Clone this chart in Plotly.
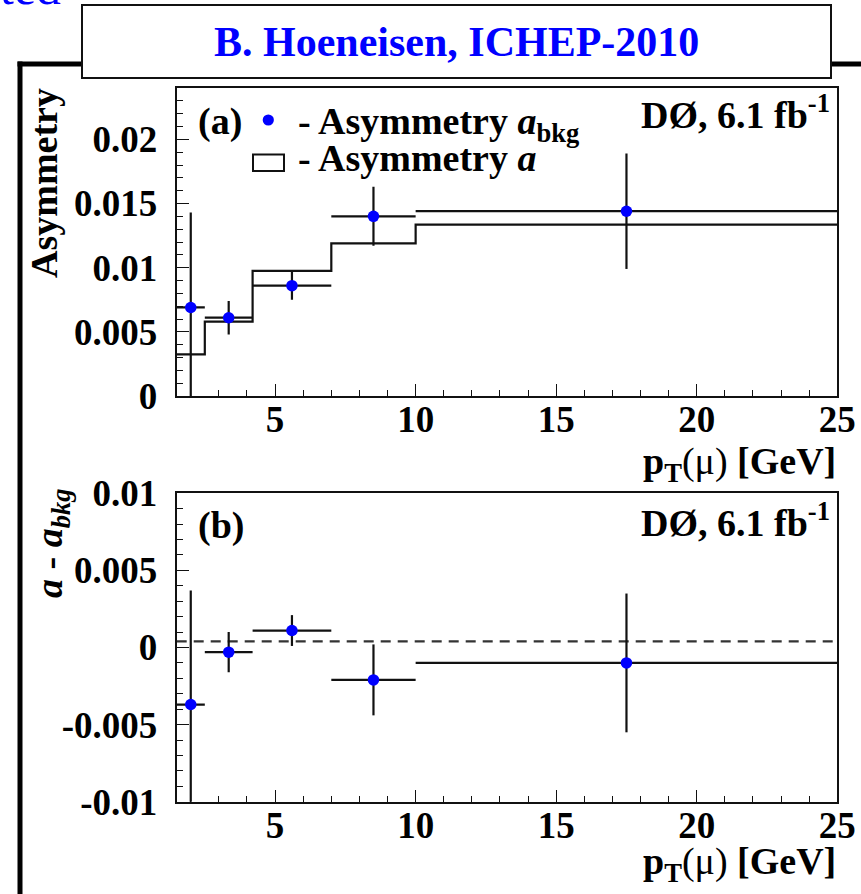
import plotly.graph_objects as go

# pT(mu) binning [GeV]
pt_edges = [1.5, 2.5, 4.2, 7.0, 10.0, 25.0]

# (a) background asymmetry a_bkg (points) and asymmetry a (histogram)
a_bkg = [0.0069, 0.0061, 0.0086, 0.0140, 0.0144]
a_bkg_err = [0.0074, 0.0013, 0.0011, 0.0023, 0.0045]
a_hist = [0.00325, 0.0058, 0.00975, 0.0119, 0.01335]

# (b) difference a - a_bkg and its mean
diff = [-0.0037, -0.0003, 0.0011, -0.0021, -0.0010]
diff_err = [0.0074, 0.0013, 0.0010, 0.0023, 0.0045]
diff_mean = 0.0004

x_ticks = [5, 10, 15, 20, 25]
x_ticktext = ["5", "10", "15", "20", "25"]
ya_ticks = [0, 0.005, 0.01, 0.015, 0.02]
ya_ticktext = ["0", "0.005", "0.01", "0.015", "0.02"]
yb_ticks = [-0.01, -0.005, 0, 0.005, 0.01]
yb_ticktext = ["-0.01", "-0.005", "0", "0.005", "0.01"]

W, H = 861, 894
SERIF = "Liberation Serif, Times New Roman, serif"
BLUE = "#0000ff"


def px(x):
    return x / W


def py(y):
    return 1 - y / H


centers = [(lo + hi) / 2 for lo, hi in zip(pt_edges[:-1], pt_edges[1:])]
half_w = [(hi - lo) / 2 for lo, hi in zip(pt_edges[:-1], pt_edges[1:])]

fig = go.Figure()

# histogram of a
fig.add_trace(go.Scatter(
    x=pt_edges, y=a_hist + [a_hist[-1]], mode="lines", line_shape="hv",
    line=dict(color="#111", width=2.2), xaxis="x", yaxis="y", showlegend=False,
    hoverinfo="skip"))

# a_bkg points
fig.add_trace(go.Scatter(
    x=centers, y=a_bkg, mode="markers",
    marker=dict(color=BLUE, size=11.5),
    error_x=dict(type="data", array=half_w, color="#111", thickness=2.2, width=0),
    error_y=dict(type="data", array=a_bkg_err, color="#111", thickness=2.2, width=0),
    xaxis="x", yaxis="y", showlegend=False))

# mean of the difference
fig.add_trace(go.Scatter(
    x=[pt_edges[0], pt_edges[-1]], y=[diff_mean, diff_mean], mode="lines",
    line=dict(color="#333", width=2.4, dash="10px,7px"),
    xaxis="x2", yaxis="y2", showlegend=False, hoverinfo="skip"))

# a - a_bkg points
fig.add_trace(go.Scatter(
    x=centers, y=diff, mode="markers",
    marker=dict(color=BLUE, size=11.5),
    error_x=dict(type="data", array=half_w, color="#111", thickness=2.2, width=0),
    error_y=dict(type="data", array=diff_err, color="#111", thickness=2.2, width=0),
    xaxis="x2", yaxis="y2", showlegend=False))

tickfont = dict(family=SERIF, size=37, color="black", weight="bold")
xdom = [px(176.7), px(837.3)]

common_x = dict(
    range=[1.5, 25], domain=xdom, showline=True, mirror=True, linecolor="#111",
    linewidth=2, ticks="inside", ticklen=12, tickwidth=1.3, tickcolor="#111",
    tickvals=x_ticks, ticktext=x_ticktext, tickfont=tickfont, showgrid=False,
    zeroline=False, ticklabelstandoff=-10, automargin=False,
    minor=dict(ticks="inside", dtick=1, tick0=0, ticklen=6, tickwidth=1.1,
               tickcolor="#111", showgrid=False))

common_y = dict(
    showline=True, mirror=True, linecolor="#111", linewidth=2, ticks="inside",
    ticklen=12, tickwidth=1.3, tickcolor="#111", tickfont=tickfont,
    showgrid=False, zeroline=False, ticklabelstandoff=10, automargin=False,
    minor=dict(ticks="inside", dtick=0.001, tick0=0, ticklen=6, tickwidth=1.1,
               tickcolor="#111", showgrid=False))

fig.update_layout(
    width=W, height=H,
    margin=dict(l=0, r=0, t=0, b=0, pad=0, autoexpand=False),
    paper_bgcolor="white", plot_bgcolor="white",
    xaxis=dict(common_x, anchor="y"),
    yaxis=dict(common_y, anchor="x", range=[0, 0.024],
               domain=[py(396), py(88)], tickvals=ya_ticks, ticktext=ya_ticktext),
    xaxis2=dict(common_x, anchor="y2"),
    yaxis2=dict(common_y, anchor="x2", range=[-0.01, 0.01],
                domain=[py(801.7), py(493.3)], tickvals=yb_ticks, ticktext=yb_ticktext),
)

shapes = [
    # slide frame
    dict(type="line", xref="paper", yref="paper", x0=px(20), x1=px(20),
         y0=py(61.5), y1=py(900), line=dict(color="black", width=5)),
    dict(type="line", xref="paper", yref="paper", x0=px(17.5), x1=px(82),
         y0=py(64), y1=py(64), line=dict(color="black", width=5)),
    dict(type="line", xref="paper", yref="paper", x0=px(831), x1=px(870),
         y0=py(64), y1=py(64), line=dict(color="black", width=5)),
    # title box
    dict(type="rect", xref="paper", yref="paper", x0=px(82), x1=px(831),
         y0=py(78), y1=py(5), line=dict(color="#111", width=2), fillcolor="white"),
    # legend symbols
    dict(type="circle", xref="paper", yref="paper", x0=px(262.7), x1=px(273.9),
         y0=py(125.6), y1=py(114.4), line=dict(color=BLUE, width=0), fillcolor=BLUE),
    dict(type="rect", xref="paper", yref="paper", x0=px(253), x1=px(284),
         y0=py(171), y1=py(154.5), line=dict(color="#111", width=2)),
]


def note(text, x, y, xanchor="left", yanchor="middle", size=38, color="black",
         angle=0):
    return dict(text=text, x=px(x), y=py(y), xref="paper", yref="paper",
                xanchor=xanchor, yanchor=yanchor, showarrow=False,
                textangle=angle, font=dict(family=SERIF, size=size, color=color))


pt_title = "<b>p<sub>T</sub></b>(μ)<b> [GeV]</b>"

annotations = [
    note("ted", -2, 17, yanchor="bottom", size=50, color=BLUE),
    note("<b>B. Hoeneisen, ICHEP-2010</b>", 456, 42, xanchor="center", size=42,
         color=BLUE),
    note("<b>(a)</b>", 196, 121),
    note("<b>- Asymmetry <i>a</i><sub>bkg</sub></b>", 296, 124),
    note("<b>- Asymmetry <i>a</i></b>", 296, 158),
    note("<b>DØ, 6.1 fb<sup>-1</sup></b>", 832, 112, xanchor="right"),
    note("<b>(b)</b>", 196, 525),
    note("<b>DØ, 6.1 fb<sup>-1</sup></b>", 832, 520, xanchor="right"),
    note(pt_title, 838, 464, xanchor="right"),
    note(pt_title, 838, 864, xanchor="right"),
    note("<b>Asymmetry</b>", 44, 86, xanchor="center", yanchor="top", angle=-90),
    note("<b><i>a</i> - <i>a</i><sub><i>bkg</i></sub></b>", 52, 486,
         xanchor="center", yanchor="top", angle=-90),
]

fig.update_layout(shapes=shapes, annotations=annotations)
fig.write_html("out.html")
